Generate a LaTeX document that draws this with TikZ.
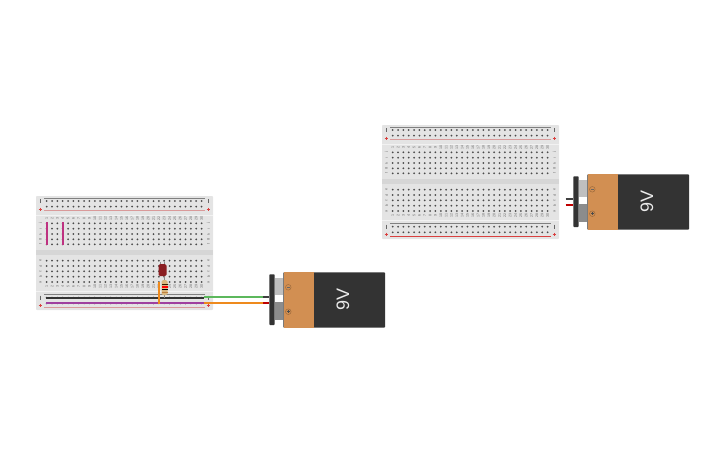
\documentclass[tikz,border=0pt]{standalone}
\usepackage{fontspec}
\setmainfont{Liberation Sans}
\usetikzlibrary{calc}
\definecolor{boardgray}{HTML}{E4E4E4}
\definecolor{boardband}{HTML}{D6D6D6}
\definecolor{boardline}{HTML}{F2F2F2}
\definecolor{holedark}{HTML}{4A4A4A}
\definecolor{railgray}{HTML}{808080}
\definecolor{copper}{HTML}{D28F52}
\definecolor{cellblack}{HTML}{333333}
\definecolor{ledred}{HTML}{8A1E22}
\definecolor{resistortan}{HTML}{D9B77E}
\definecolor{railpink}{HTML}{D99A9A}
\definecolor{railred}{HTML}{D9403F}
\definecolor{leadgreen}{HTML}{5CB85C}
\definecolor{leadorange}{HTML}{EE8A1D}
\tikzset{
	hole/.style={fill=holedark, draw=none},
	marktext/.style={font=\fontsize{3.6}{4}\selectfont, text=black!60, inner sep=0pt, rotate=90},
	wire/.style={line width=2pt},
	cell/.style={rounded corners=0.8pt},
}
\def\breadboard[#1](#2,#3)(#4:#5){\begin{scope}[shift={(#2,#3)}]
		\fill[boardgray, rounded corners=0.8pt] (0, 0) rectangle (177, 114);
		\fill[boardband] (0, 54) rectangle (177, 59);
		\draw[boardline, line width=1pt] (0, 19) -- (177, 19);
		\draw[boardline, line width=1pt] (0, 95.5) -- (177, 95.5);
		\draw[railgray, line width=1.2pt] (8, 2.3) -- (169, 2.3);
		\draw[#4, line width=1.5pt] (8, 14.7) -- (169, 14.7);
		\draw[railgray, line width=1.2pt] (8, 98.3) -- (169, 98.3);
		\draw[#5, line width=1.5pt] (8, 111.3) -- (169, 111.3);
		\foreach \col in {0,...,29}{
			\foreach \row in {5,10.6,27.3,32.7,38,43.3,48.3,64.7,70,75.3,80.7,86,101.7,107.3}{
				\fill[hole] ({10.7+\col*5.34}, \row) circle (1);
			}
			\pgfmathtruncatemacro{\num}{\col+1}
			\node[marktext] (#1top\num) at ({10.7+\col*5.34}, 22.3) {\num};
			\node[marktext] (#1bot\num) at ({10.7+\col*5.34}, 90.7) {\num};
		}
		\foreach \row/\lab in {27.3/j,32.7/i,38/h,43.3/g,48.3/f,64.7/e,70/d,75.3/c,80.7/b,86/a}{
			\node[marktext] (#1left\lab) at (4.5, \row) {\lab};
			\node[marktext] (#1right\lab) at (172.5, \row) {\lab};
		}
		\foreach \row in {5, 101.7}{
			\draw[black!60, line width=0.7pt] (4.5, {\row-2}) -- (4.5, {\row+2});
			\draw[black!60, line width=0.7pt] (172, {\row-2}) -- (172, {\row+2});
		}
		\foreach \row in {13.3, 109.3}{
			\draw[railred, line width=0.7pt] (2.5, \row) -- (6, \row);
			\draw[railred, line width=0.7pt] (4.25, {\row-1.7}) -- (4.25, {\row+1.7});
			\draw[railred, line width=0.7pt] (170.5, \row) -- (174, \row);
			\draw[railred, line width=0.7pt] (172.25, {\row-1.7}) -- (172.25, {\row+1.7});
		}
	\end{scope}}
\def\ninevolt[#1](#2,#3){\begin{scope}[shift={(#2,#3)}]
		\fill[cellblack, cell] (5, 0) rectangle (10.4, 50.7);
		\fill[black!25] (10.4, 3.4) rectangle (19, 20.7);
		\fill[black!45] (10.4, 27.4) rectangle (19, 45.7);
		\fill[cellblack, cell] (19, -2) rectangle (120.7, 53.4);
		\fill[copper] (19.6, -2) rectangle (49.7, 53.4);
		\draw[copper!75!black, line width=0.5pt] (24, 13) circle (2.8);
		\draw[copper!75!black, line width=0.5pt] (24, 37.4) circle (2.8);
		\draw[black!60, line width=0.7pt] (22.6, 13) -- (25.4, 13);
		\draw[black!70, line width=0.7pt] (22.4, 37.4) -- (25.6, 37.4);
		\draw[black!70, line width=0.7pt] (24, 35.8) -- (24, 39);
		\node[rotate=90, text=black!8, font=\fontsize{18}{18}\selectfont] (#1label) at (78.7, 25.4) {9V};
	\end{scope}}

\begin{document}
\begin{tikzpicture}[x=1pt, y=-1pt]
		%%%%% START %%%%%
		
		\useasboundingbox (0, 0) rectangle (725, 453);
		
		\breadboard[lb](36,196)(railpink:railpink);
		\breadboard[rb](382,125)(railpink:railred);
		
		% jumpers on the left board
		\draw[magenta!75!black, line width=2pt] (46.7, 222) -- (46.7, 245);
		\draw[magenta!75!black, line width=2pt] (63, 222) -- (63, 245);
		
		% rails
		\draw[black!80, line width=2.2pt] (46, 297.6) -- (204, 297.6);
		\draw[violet!75, line width=2pt] (46, 303.3) -- (204, 303.3);
		
		% led and resistor
		\draw[black!45, line width=0.7pt] (160.5, 262) -- (160.5, 268);
		\draw[black!45, line width=0.7pt] (164.5, 262) -- (164.5, 268);
		\draw[black!45, line width=0.7pt] (164.5, 274) -- (164.5, 282);
		\fill[ledred, rounded corners=1.5pt] (158.5, 264) rectangle (166.5, 276);
		\draw[black!45, line width=0.8pt] (164.5, 294) -- (164.5, 298);
		\fill[resistortan, rounded corners=1.5pt] (161.5, 280) rectangle (167.5, 295);
		\fill[black!80!orange] (161.5, 284) rectangle (167.5, 285.2);
		\fill[red] (161.5, 286.3) rectangle (167.5, 287.6);
		\fill[black] (161.5, 288.8) rectangle (167.5, 290);
		\fill[brown] (161.5, 291.6) rectangle (167.5, 292.8);
		\draw[leadorange, line width=1.8pt] (159.3, 281.5) -- (159.3, 304);
		
		% cells
		\ninevolt[lc](264.3,274.3);
		\ninevolt[rc](568.3,176.3);
		
		% leads
		\draw[leadgreen, wire] (204, 297.3) -- (264, 297.3);
		\draw[leadorange, wire] (204, 302.8) -- (264, 302.8);
		\draw[black!75, line width=2.2pt] (263, 297.3) -- (269.3, 297.3);
		\draw[red!75!black, line width=2.2pt] (263, 302.8) -- (269.3, 302.8);
		\draw[black!75, line width=2.2pt] (565.5, 199.3) -- (573.3, 199.3);
		\draw[red!75!black, line width=2.2pt] (565.5, 204.8) -- (573.3, 204.8);
		
		%%%%% END %%%%%
	\end{tikzpicture}
\end{document}
